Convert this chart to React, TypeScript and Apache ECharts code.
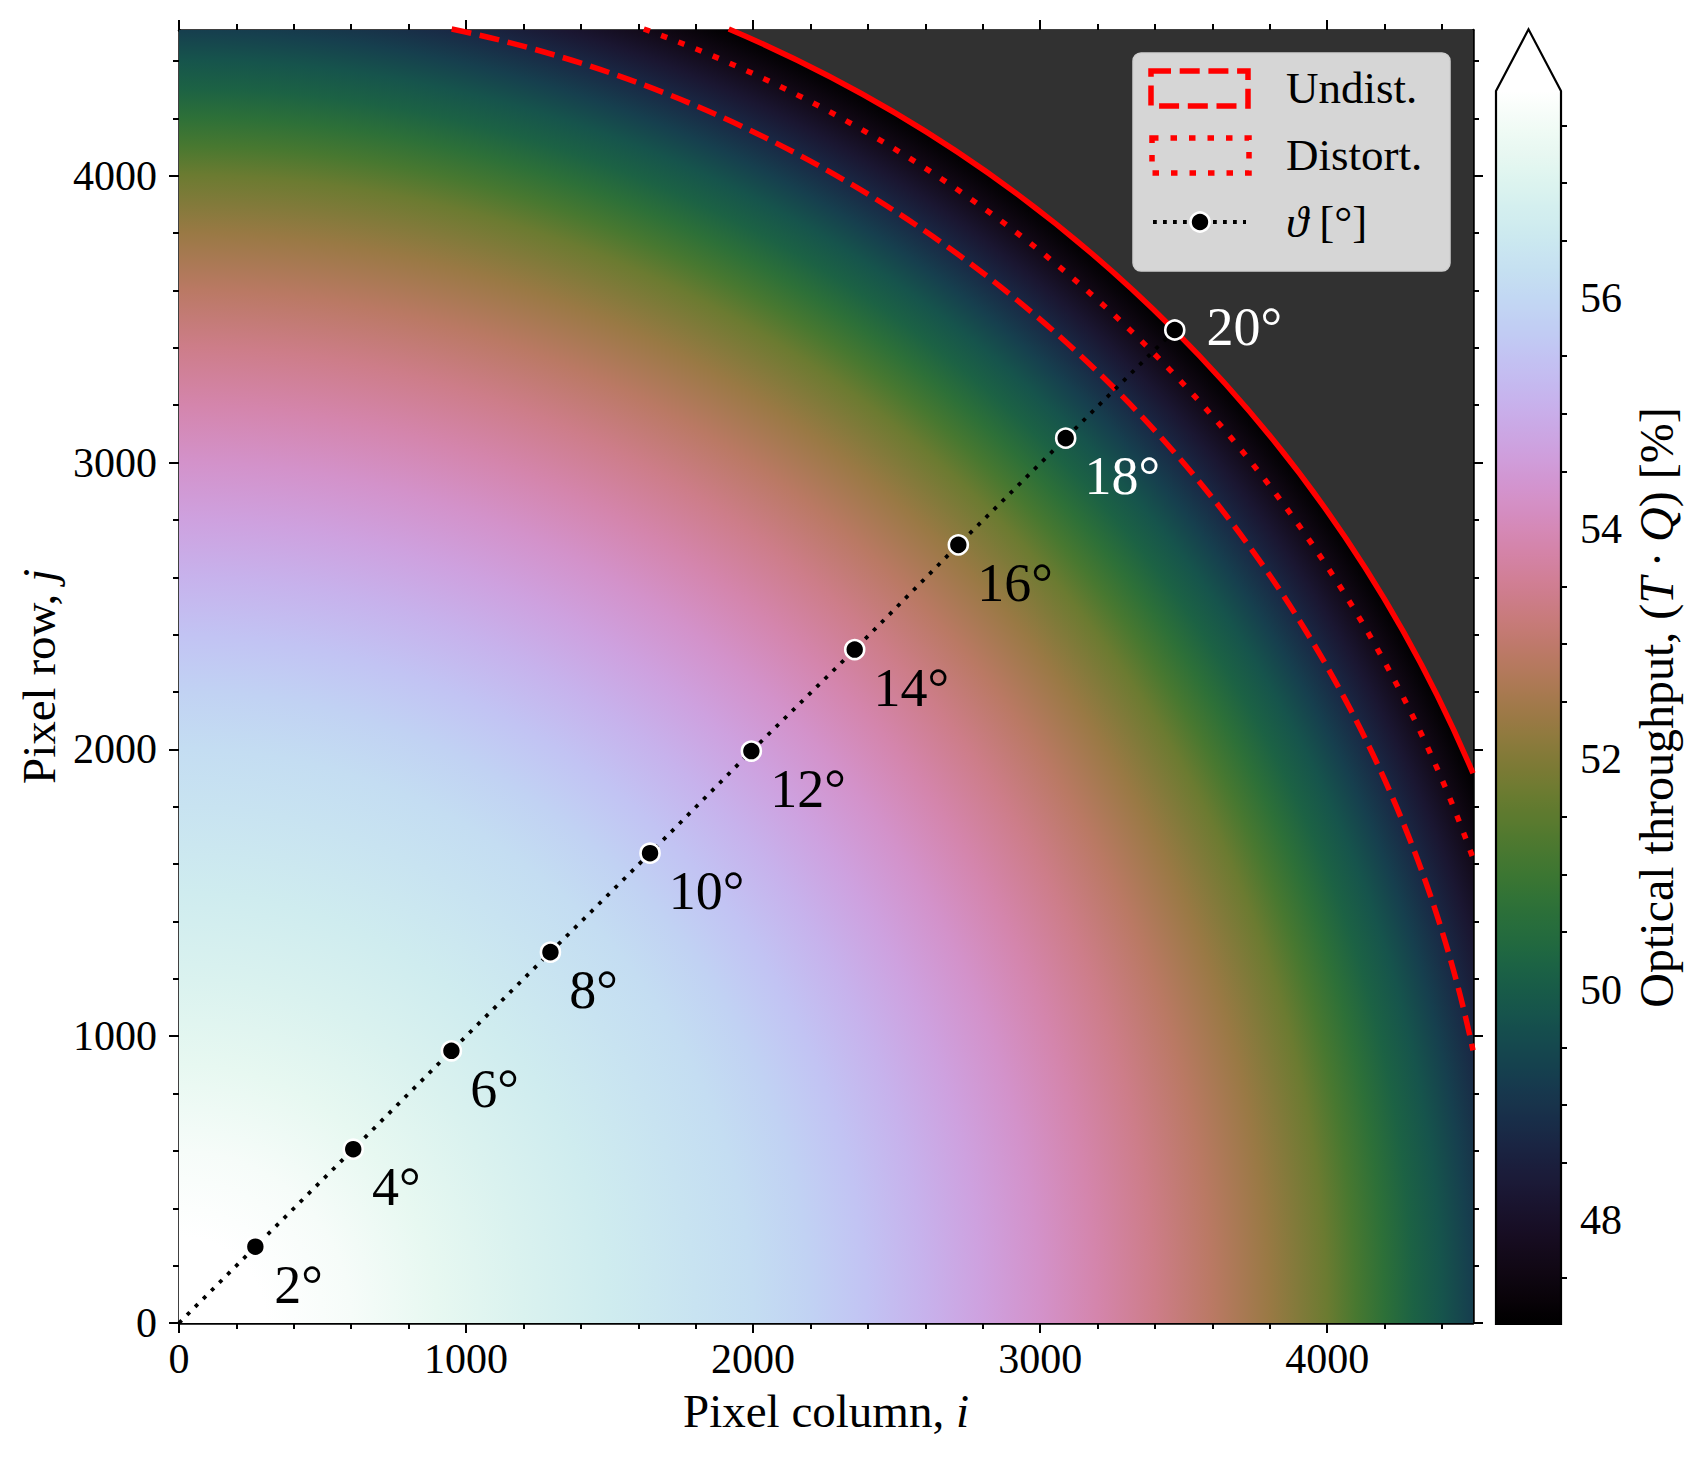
import React, { useEffect, useRef } from 'react';
import * as echarts from 'echarts';

// ---------------- data ----------------
const AXIS_MIN = 0;
const AXIS_MAX = 4508;
const majorTicks = [0, 1000, 2000, 3000, 4000];
const minorTicks = [200, 400, 600, 800, 1200, 1400, 1600, 1800, 2200, 2400, 2600, 2800, 3200, 3400, 3600, 3800, 4200, 4400];

// radial throughput profile (distance from pixel (0,0), in pixels)
const radiusPx = [0, 300, 600, 900, 1200, 1500, 1800, 2000, 2200, 2400, 2600, 2800, 3000, 3200, 3400, 3600, 3800, 4000, 4100, 4200, 4300, 4400, 4500, 4600, 4700, 4800, 4898];
const throughput = [58.3, 58.0, 57.6, 57.25, 56.95, 56.65, 56.35, 56.15, 55.85, 55.5, 55.1, 54.7, 54.3, 53.85, 53.4, 52.9, 52.35, 51.7, 51.2, 50.7, 50.2, 49.8, 49.3, 48.75, 48.2, 47.6, 47.1];

// field angle markers
const thetaDeg = [2, 4, 6, 8, 10, 12, 14, 16, 18, 20];
const thetaCol = [266, 607, 949, 1294, 1641, 1994, 2354, 2715, 3089, 3469];
const thetaRow = [266, 606, 949, 1293, 1638, 1994, 2348, 2713, 3085, 3462];

// circles
const circleNames = ['Undist.', 'Distort.', 'Edge'];
const circleRadius = [4607, 4790, 4898];

// colorbar
const CBAR_MIN = 47.1;
const CBAR_MAX = 57.8;
const cbarMajor = [48, 50, 52, 54, 56];
const cbarMinor = [47.5, 48.5, 49, 49.5, 50.5, 51, 51.5, 52.5, 53, 53.5, 54.5, 55, 55.5, 56.5, 57, 57.5];

// ---------------- styles ----------------
const FONT = '"Liberation Serif", "DejaVu Serif", serif';
const NAN_COLOR = '#313131';
const RED = '#ff0000';
const TICK_FONT = 42;
const plain = (v: number) => String(v);

function cubehelix(t: number): string {
  t = Math.min(1, Math.max(0, t));
  const a = (t * (1 - t)) / 2;
  const phi = 2 * Math.PI * (0.5 / 3 - 1.5 * t);
  const c = Math.cos(phi);
  const s = Math.sin(phi);
  const cl = (v: number) => Math.round(255 * Math.min(1, Math.max(0, v)));
  const r = t + a * (-0.14861 * c + 1.78277 * s);
  const g = t + a * (-0.29227 * c - 0.90649 * s);
  const b = t + a * (1.97294 * c);
  return `rgb(${cl(r)},${cl(g)},${cl(b)})`;
}
const cmapColor = (v: number) => cubehelix((v - CBAR_MIN) / (CBAR_MAX - CBAR_MIN));

function axisBase(extra: any) {
  return {
    type: 'value',
    splitLine: { show: false },
    axisLine: { show: false, lineStyle: { color: '#000', width: 2.5 } },
    axisTick: { show: true, inside: false, length: 10, lineStyle: { color: '#000', width: 2 } },
    axisLabel: { show: false },
    ...extra,
  };
}

function mainAxis(gridPos: string, major: boolean, labeled: boolean, margin: number) {
  return axisBase({
    gridIndex: 0,
    position: gridPos,
    min: AXIS_MIN,
    max: AXIS_MAX,
    axisLine: { show: major, onZero: false, lineStyle: { color: '#000', width: 2.5 } },
    axisTick: { show: true, inside: false, length: major ? 10 : 6, customValues: major ? majorTicks : minorTicks, lineStyle: { color: '#000', width: 2 } },
    axisLabel: labeled
      ? { show: true, customValues: majorTicks, margin, fontSize: TICK_FONT, color: '#000', fontFamily: FONT, formatter: plain }
      : { show: false },
  });
}

const nameStyle = (size: number) => ({
  fontSize: size, color: '#000', fontFamily: FONT,
  rich: { it: { fontSize: size, fontStyle: 'italic', fontFamily: FONT, color: '#000' } },
});

export default function App() {
  const ref = useRef<HTMLDivElement>(null);
  useEffect(() => {
    if (!ref.current) return;
    const chart = echarts.init(ref.current, undefined, { renderer: 'svg' });

    const xAxes: any[] = [
      {
        ...mainAxis('bottom', true, true, 15),
        name: 'Pixel column, {it|i}',
        nameLocation: 'middle',
        nameGap: 64,
        nameTextStyle: nameStyle(47),
      },
      mainAxis('bottom', false, false, 15),
      mainAxis('top', true, false, 15),
      mainAxis('top', false, false, 15),
      { type: 'value', gridIndex: 1, min: 0, max: 1, show: false },
    ];
    const yAxes: any[] = [
      {
        ...mainAxis('left', true, true, 22),
        name: 'Pixel row, {it|j}',
        nameLocation: 'middle',
        nameRotate: 90,
        nameGap: 115,
        nameTextStyle: nameStyle(47),
      },
      mainAxis('left', false, false, 22),
      mainAxis('right', true, false, 22),
      mainAxis('right', false, false, 22),
      axisBase({
        gridIndex: 1,
        position: 'right',
        min: CBAR_MIN,
        max: CBAR_MAX,
        axisLine: { show: false },
        axisTick: { show: true, inside: false, length: 10, customValues: cbarMajor, lineStyle: { color: '#000', width: 2 } },
        axisLabel: { show: true, customValues: cbarMajor, margin: 19, fontSize: TICK_FONT, color: '#000', fontFamily: FONT, formatter: plain },
        name: 'Optical throughput, ({it|T}\u2009·\u2009{it|Q}) [%]',
        nameLocation: 'middle',
        nameRotate: 90,
        nameGap: 71,
        nameTextStyle: nameStyle(48),
      }),
      axisBase({
        gridIndex: 1,
        position: 'right',
        min: CBAR_MIN,
        max: CBAR_MAX,
        axisLine: { show: false },
        axisTick: { show: true, inside: false, length: 6, customValues: cbarMinor, lineStyle: { color: '#000', width: 2 } },
        axisLabel: { show: false },
      }),
    ];

    const outer = radiusPx[radiusPx.length - 1];

    const fieldSeries = {
      type: 'custom',
      xAxisIndex: 0,
      yAxisIndex: 0,
      silent: true,
      z: 1,
      data: [[0, 0]],
      renderItem: (params: any, api: any) => {
        const c = api.coord([0, 0]);
        const tl = api.coord([AXIS_MIN, AXIS_MAX]);
        const br = api.coord([AXIS_MAX, AXIS_MIN]);
        const gradR = outer * 1.08;
        const rPx = api.size([gradR, 0])[0];
        const stops: any[] = radiusPx.map((r, k) => ({ offset: r / gradR, color: cmapColor(throughput[k]) }));
        stops.push({ offset: outer / gradR + 0.0003, color: NAN_COLOR });
        stops.push({ offset: 1, color: NAN_COLOR });
        return {
          type: 'rect',
          shape: { x: tl[0], y: tl[1], width: br[0] - tl[0], height: br[1] - tl[1] },
          style: { fill: { type: 'radial', x: c[0], y: c[1], r: rPx, global: true, colorStops: stops } },
        };
      },
    };

    const circleStyles: any[] = [
      { lineDash: [20, 8.7] },
      { lineDash: [6.5, 12] },
      { lineDash: null },
    ];
    const circleSeries = {
      type: 'custom',
      xAxisIndex: 0,
      yAxisIndex: 0,
      silent: true,
      z: 3,
      data: circleRadius.map((r, k) => ({ value: [r, k], name: circleNames[k] })),
      renderItem: (params: any, api: any) => {
        const R = api.value(0);
        const k = api.value(1);
        const c = api.coord([0, 0]);
        const rp = api.size([R, 0])[0];
        const M = AXIS_MAX;
        const a0 = R > M ? Math.acos(M / R) : 0;
        const a1 = R > M ? Math.asin(M / R) : Math.PI / 2;
        return {
          type: 'arc',
          shape: { cx: c[0], cy: c[1], r: rp, startAngle: -a1, endAngle: -a0, clockwise: true },
          style: { stroke: RED, lineWidth: 5.5, fill: 'none', lineCap: 'butt', ...circleStyles[k] },
        };
      },
    };

    const lineSeries = {
      type: 'line',
      xAxisIndex: 0,
      yAxisIndex: 0,
      silent: true,
      z: 4,
      showSymbol: false,
      symbol: 'none',
      data: [[0, 0], ...thetaCol.map((c, k) => [c, thetaRow[k]])],
      lineStyle: { color: '#000', width: 3.8, type: [3.8, 7.6], cap: 'butt' },
    };

    const markerSeries = {
      type: 'scatter',
      xAxisIndex: 0,
      yAxisIndex: 0,
      silent: true,
      z: 5,
      symbol: 'circle',
      symbolSize: 19,
      itemStyle: { color: '#000', borderColor: '#fff', borderWidth: 2.6, opacity: 1 },
      label: {
        show: true,
        position: 'right',
        distance: 5,
        offset: [3, 38],
        formatter: '{b}°',
        fontSize: 54,
        fontFamily: FONT,
        color: '#000',
      },
      data: thetaDeg.map((d, k) => {
        const item: any = { name: String(d), value: [thetaCol[k], thetaRow[k]] };
        if (d >= 18) item.label = { color: '#fff' };
        if (d === 20) item.label = { color: '#fff', offset: [16, -3] };
        return item;
      }),
    };

    const cbarSeries = {
      type: 'custom',
      xAxisIndex: 4,
      yAxisIndex: 4,
      silent: true,
      z: 2,
      data: [[0, CBAR_MIN]],
      renderItem: (params: any, api: any) => {
        const bl = api.coord([0, CBAR_MIN]);
        const tr = api.coord([1, CBAR_MAX]);
        const x0 = bl[0], x1 = tr[0], y0 = bl[1], y1 = tr[1];
        const ext = (y0 - y1) * 0.05;
        const n = 96;
        const stops: any[] = [];
        for (let k = 0; k <= n; k++) {
          stops.push({ offset: k / n, color: cmapColor(CBAR_MIN + (k / n) * (CBAR_MAX - CBAR_MIN)) });
        }
        const mid = (x0 + x1) / 2;
        return {
          type: 'group',
          children: [
            {
              type: 'rect',
              shape: { x: x0, y: y1, width: x1 - x0, height: y0 - y1 },
              style: { fill: { type: 'linear', x: 0, y: 1, x2: 0, y2: 0, colorStops: stops } },
            },
            {
              type: 'polygon',
              shape: { points: [[x0, y1 + 0.5], [mid, y1 - ext], [x1, y1 + 0.5]] },
              style: { fill: cmapColor(CBAR_MAX + 1) },
            },
            {
              type: 'polygon',
              shape: { points: [[x0, y0], [x0, y1], [mid, y1 - ext], [x1, y1], [x1, y0]] },
              style: { fill: 'none', stroke: '#000', lineWidth: 2.2 },
            },
          ],
        };
      },
    };

    // legend (drawn as graphics)
    const legend: any[] = [
      {
        type: 'rect', z: 100,
        shape: { x: 1133, y: 53, width: 317, height: 218, r: 8 },
        style: { fill: '#d6d6d6', stroke: '#cfcfcf', lineWidth: 1.5 },
      },
      {
        type: 'rect', z: 101,
        shape: { x: 1151, y: 71, width: 97, height: 35 },
        style: { fill: 'none', stroke: RED, lineWidth: 5.5, lineDash: [20, 8.7] },
      },
      {
        type: 'rect', z: 101,
        shape: { x: 1152, y: 138, width: 97, height: 35 },
        style: { fill: 'none', stroke: RED, lineWidth: 5.5, lineDash: [6.5, 12] },
      },
      {
        type: 'line', z: 101,
        shape: { x1: 1153, y1: 222, x2: 1246, y2: 222 },
        style: { stroke: '#000', lineWidth: 3.8, lineDash: [3.8, 6.2] },
      },
      {
        type: 'circle', z: 102,
        shape: { cx: 1200, cy: 222, r: 9.5 },
        style: { fill: '#000', stroke: '#fff', lineWidth: 2.6 },
      },
      {
        type: 'text', z: 102, x: 1286, y: 88,
        style: { text: 'Undist.', fontSize: 45, fontFamily: FONT, fill: '#000', align: 'left', verticalAlign: 'middle' },
      },
      {
        type: 'text', z: 102, x: 1286, y: 155,
        style: { text: 'Distort.', fontSize: 45, fontFamily: FONT, fill: '#000', align: 'left', verticalAlign: 'middle' },
      },
      {
        type: 'text', z: 102, x: 1286, y: 222,
        style: {
          text: '{it|ϑ} [°]', fontSize: 45, fontFamily: FONT, fill: '#000', align: 'left', verticalAlign: 'middle',
          rich: { it: { fontSize: 45, fontStyle: 'italic', fontFamily: FONT, fill: '#000', color: '#000' } },
        },
      },
    ];

    chart.setOption({
      animation: false,
      backgroundColor: '#ffffff',
      textStyle: { fontFamily: FONT },
      grid: [
        { left: 179, top: 30, width: 1294, height: 1293, containLabel: false, outerBoundsMode: 'none', show: true, backgroundColor: NAN_COLOR, borderWidth: 0 },
        { left: 1496, top: 91, width: 65, height: 1233, containLabel: false, outerBoundsMode: 'none', show: false },
      ],
      xAxis: xAxes,
      yAxis: yAxes,
      series: [fieldSeries, circleSeries, lineSeries, markerSeries, cbarSeries],
      graphic: legend,
    });

    return () => chart.dispose();
  }, []);

  return (
    <div
      ref={ref}
      style={{ position: 'absolute', left: 0, top: 0, width: 1698, height: 1458, background: '#fff' }}
    />
  );
}
